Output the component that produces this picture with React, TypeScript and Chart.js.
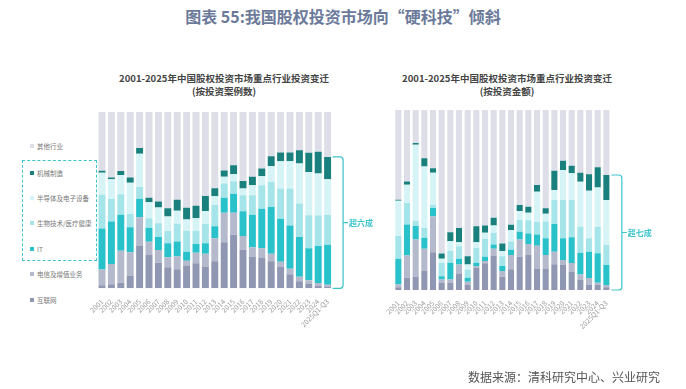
import React, { useEffect, useRef } from "react";
import { Chart, registerables } from "chart.js";

Chart.register(...registerables);

const FONT = '"Noto Sans CJK SC", "Noto Sans", sans-serif';

const categories = [
  "2001", "2002", "2003", "2004", "2005", "2006", "2007", "2008", "2009", "2010",
  "2011", "2012", "2013", "2014", "2015", "2016", "2017", "2018", "2019", "2020",
  "2021", "2022", "2023", "2024", "2025Q1-Q3",
];

const seriesNames = ["互联网", "电信及增值业务", "IT", "生物技术/医疗健康", "半导体及电子设备", "机械制造", "其他行业"];

// by number of cases (%)
const caseInternet = [1.7, 2.3, 3.2, 7.2, 24.2, 19.2, 14.5, 11.9, 10.8, 12.6, 14.2, 12.3, 15.3, 26.1, 30.3, 21.8, 18, 17.2, 15.3, 12, 8, 4, 2.5, 1.5, 1];
const caseTelecom = [9, 11.5, 18.1, 13.2, 16.1, 7.2, 7.2, 5.7, 7.2, 3, 6, 7.2, 13, 16.7, 12.5, 7.8, 5.3, 5.5, 4.2, 3, 3, 2.5, 2, 1.5, 1];
const caseIT = [23.2, 24, 20.4, 14.2, 10.4, 7.9, 7.4, 7.9, 8.5, 5.1, 4.9, 6, 6.8, 8.5, 10.8, 14, 18.4, 22.3, 26.5, 24.4, 24.6, 22.5, 18.2, 20.9, 22.7];
const caseBio = [19.2, 12.8, 11.5, 7.5, 6.6, 5.3, 7.7, 7, 10, 11.9, 7.5, 10.9, 12.1, 8, 7, 9.1, 11, 13.3, 14.2, 17.1, 20.9, 19, 18.6, 17.4, 17];
const caseSemi = [12.3, 11.1, 10.9, 17.7, 18.9, 9.1, 8.9, 8.1, 7.4, 6.4, 7, 7.4, 4.9, 3.8, 4, 3.8, 5.7, 5.1, 8.9, 15.5, 15.5, 22.7, 24.6, 23.7, 20.1];
const caseMach = [1.1, 1.1, 2.3, 3, 3.2, 2.6, 3.4, 4.7, 6.2, 6.6, 7.2, 8.5, 4.5, 3.6, 5.1, 4.2, 4.7, 4.4, 5.7, 4.9, 4.9, 7.5, 10.8, 12.3, 12.6];
const caseOther = [33.5, 37.2, 33.6, 37.2, 20.6, 48.7, 50.9, 54.7, 49.9, 54.4, 53.2, 47.7, 43.4, 33.3, 30.3, 39.3, 36.9, 32.2, 25.2, 23.1, 23.1, 21.8, 23.3, 22.7, 25.6];

// by investment amount (%)
const amtInternet = [1.5, 6.8, 7.4, 10.9, 21, 4.1, 4.1, 9.2, 3.1, 12.4, 14.8, 19.2, 7.4, 11.5, 18.5, 19.4, 12, 12, 14.3, 13.9, 10, 5.6, 2.8, 2.8, 1.5];
const amtTelecom = [1.6, 12.4, 20.7, 12, 19.9, 1.8, 1.8, 5, 1.5, 0.9, 1.3, 3.7, 3.1, 8, 9.6, 6.1, 12.6, 7.4, 7, 2.8, 5, 3, 3.9, 1.2, 1.3];
const amtIT = [14.2, 17.2, 7.4, 6.1, 4.6, 1.8, 9.2, 3.1, 2.2, 1.8, 2.4, 2.4, 2.8, 2.8, 4.3, 5.9, 6.3, 9.3, 15.4, 12, 14.3, 12.1, 14.6, 16.4, 11.1];
const amtBio = [12.9, 12, 2.8, 5.5, 1.8, 7.4, 6.5, 7, 4.6, 8.3, 10, 6.5, 5.5, 4.6, 6.5, 7.4, 7, 9.3, 13.3, 21.3, 20.7, 14.5, 7.4, 14.8, 11.1];
const amtSemi = [19.4, 10.1, 42.4, 34.1, 17.9, 2.2, 5.5, 2.2, 2.8, 3.1, 3.3, 4.1, 2.8, 6.5, 5, 4.1, 16.7, 4.3, 5.6, 16.7, 14.8, 25, 26.5, 21.8, 25];
const amtMach = [0.5, 1.8, 0.9, 4.6, 2.4, 3, 5, 7.9, 4.6, 8.9, 4.1, 4.2, 4.2, 2.8, 3.3, 3.3, 3.7, 3.1, 10.6, 5.1, 4.2, 5, 9.1, 11.2, 13.9];
const amtOther = [49.9, 39.7, 18.4, 26.8, 32.4, 79.7, 67.9, 65.6, 81.2, 64.6, 64.1, 59.9, 74.2, 63.8, 52.8, 53.8, 41.7, 54.6, 33.8, 28.2, 31, 34.8, 35.7, 31.8, 36.1];

const COLORS = ["#9097b3", "#b5b9cc", "#29c2cb", "#a5e5ea", "#d6f4f6", "#19807d", "#dddee7"];
const BRACKET = "#3cc4cc";

type BoxProps = {
  left: number;
  top: number;
  width: number;
  height: number;
  padLeft: number;
  padRight: number;
  padTop: number;
  axisHeight: number;
  barPct: number;
  series: number[][];
  label: string;
};

function StackChart(p: BoxProps) {
  const ref = useRef<HTMLCanvasElement | null>(null);
  useEffect(() => {
    if (!ref.current) return;
    const bracketPlugin = {
      id: "bracket",
      afterDraw(chart: any) {
        const ctx = chart.ctx;
        const xs = chart.scales.x;
        const ys = chart.scales.y;
        const last = categories.length - 1;
        let total = 0;
        for (let i = 0; i < p.series.length - 1; i++) total += p.series[i][last];
        const cx = xs.getPixelForValue(last);
        const x0 = cx + 5;
        const x1 = cx + 15.5;
        const yT = ys.getPixelForValue(total);
        const yB = ys.getPixelForValue(0);
        const yM = (yT + yB) / 2;
        const r = 3;
        ctx.save();
        ctx.strokeStyle = BRACKET;
        ctx.lineWidth = 1.2;
        ctx.beginPath();
        ctx.moveTo(x0, yT);
        ctx.lineTo(x1 - r, yT);
        ctx.quadraticCurveTo(x1, yT, x1, yT + r);
        ctx.lineTo(x1, yB - r);
        ctx.quadraticCurveTo(x1, yB, x1 - r, yB);
        ctx.lineTo(x0, yB);
        ctx.moveTo(x1, yM);
        ctx.lineTo(x1 + 5, yM);
        ctx.stroke();
        ctx.fillStyle = BRACKET;
        ctx.font = `bold 8px ${FONT}`;
        ctx.textBaseline = "middle";
        ctx.textAlign = "left";
        ctx.fillText(p.label, x1 + 6, yM + 0.5);
        ctx.restore();
      },
    };
    const chart = new Chart(ref.current, {
      type: "bar",
      data: {
        labels: categories,
        datasets: p.series.map((d, i) => ({
          label: seriesNames[i],
          data: d,
          backgroundColor: COLORS[i],
          borderWidth: 0,
          barPercentage: p.barPct,
          categoryPercentage: 1,
        })),
      },
      options: {
        animation: false,
        responsive: false,
        maintainAspectRatio: false,
        layout: { padding: { left: p.padLeft, right: p.padRight, top: p.padTop, bottom: 0 } },
        plugins: { legend: { display: false }, tooltip: { enabled: false }, title: { display: false } },
        scales: {
          x: {
            stacked: true,
            grid: { display: false },
            border: { display: false },
            ticks: {
              autoSkip: false,
              minRotation: 45,
              maxRotation: 45,
              padding: 1,
              color: "#9a9a9a",
              font: { size: 7, family: FONT },
            },
            afterFit: (s: any) => {
              s.height = p.axisHeight;
            },
          },
          y: { stacked: true, display: false, min: 0, max: 100 },
        },
      },
      plugins: [bracketPlugin],
    } as any);
    return () => chart.destroy();
  }, []);
  return (
    <canvas
      ref={ref}
      width={p.width}
      height={p.height}
      style={{ position: "absolute", left: p.left, top: p.top, width: p.width, height: p.height }}
    />
  );
}

const legendItems = [
  { name: "其他行业", color: COLORS[6], y: 145.5 },
  { name: "机械制造", color: COLORS[5], y: 172.5 },
  { name: "半导体及电子设备", color: COLORS[4], y: 197.5 },
  { name: "生物技术/医疗健康", color: COLORS[3], y: 222.5 },
  { name: "IT", color: COLORS[2], y: 248.5 },
  { name: "电信及增值业务", color: COLORS[1], y: 274 },
  { name: "互联网", color: COLORS[0], y: 299.5 },
];

export default function App() {
  return (
    <div
      style={{
        position: "absolute",
        left: 0,
        top: 0,
        width: 686,
        height: 389,
        background: "#ffffff",
        fontFamily: FONT,
        overflow: "hidden",
      }}
    >
      <div
        style={{
          position: "absolute",
          left: 0,
          width: 686,
          top: 4,
          textAlign: "center",
          fontSize: 16,
          fontWeight: 700,
          color: "#6b7a9a",
          lineHeight: "24px",
          whiteSpace: "nowrap",
        }}
      >
        图表 55:我国股权投资市场向“硬科技”倾斜
      </div>

      <div
        style={{
          position: "absolute",
          left: 104,
          width: 240,
          top: 72,
          textAlign: "center",
          fontSize: 9.5,
          fontWeight: 700,
          color: "#444",
          lineHeight: "13px",
          whiteSpace: "nowrap",
        }}
      >
        2001-2025年中国股权投资市场重点行业投资变迁
        <br />
        (按投资案例数)
      </div>
      <div
        style={{
          position: "absolute",
          left: 387,
          width: 240,
          top: 72,
          textAlign: "center",
          fontSize: 9.5,
          fontWeight: 700,
          color: "#444",
          lineHeight: "13px",
          whiteSpace: "nowrap",
        }}
      >
        2001-2025年中国股权投资市场重点行业投资变迁
        <br />
        (按投资金额)
      </div>

      <div
        style={{
          position: "absolute",
          left: 21.5,
          top: 159.5,
          width: 75,
          height: 101,
          border: `1px dashed ${BRACKET}`,
          boxSizing: "border-box",
        }}
      />
      {legendItems.map((it) => (
        <div
          key={it.name}
          style={{
            position: "absolute",
            left: 30,
            top: it.y - 6,
            height: 12,
            display: "flex",
            alignItems: "center",
            fontSize: 6.5,
            color: "#777",
            whiteSpace: "nowrap",
          }}
        >
          <span
            style={{ display: "inline-block", width: 4, height: 4, background: it.color, marginRight: 3 }}
          />
          {it.name}
        </div>
      ))}

      <StackChart
        left={70}
        top={100}
        width={310}
        height={250}
        padLeft={27.3}
        padRight={47.7}
        padTop={11.7}
        axisHeight={61.7}
        barPct={0.74}
        series={[caseInternet, caseTelecom, caseIT, caseBio, caseSemi, caseMach, caseOther]}
        label="超六成"
      />
      <StackChart
        left={370}
        top={100}
        width={300}
        height={250}
        padLeft={24}
        padRight={59.3}
        padTop={10}
        axisHeight={60}
        barPct={0.7}
        series={[amtInternet, amtTelecom, amtIT, amtBio, amtSemi, amtMach, amtOther]}
        label="超七成"
      />

      <div
        style={{
          position: "absolute",
          left: 400,
          width: 260,
          top: 368,
          textAlign: "right",
          fontSize: 12,
          color: "#555",
          lineHeight: "18px",
          whiteSpace: "nowrap",
        }}
      >
        数据来源：清科研究中心、兴业研究
      </div>
    </div>
  );
}
